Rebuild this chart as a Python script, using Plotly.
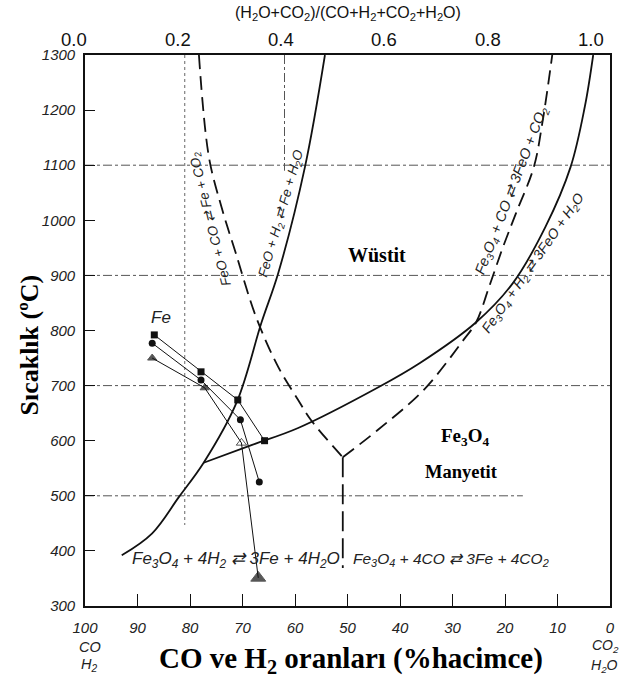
import plotly.graph_objects as go

# ---------------- data ----------------
# x values are CO / H2 volume percent (100 at left, 0 at right), y is temperature (°C)
h2_fe_x = [93.0, 87.2, 82.1, 77.4, 71.1, 66.4, 63.2, 58.1, 54.3]
h2_fe_t = [392, 432, 498, 560, 670, 814, 904, 1097, 1300]

h2_feo_x = [77.4, 68.3, 59.4, 44.3, 36.2, 25.5, 18.5, 12.3, 7.5, 4.8, 3.2]
h2_feo_t = [560, 592, 623, 696, 741, 815, 886, 988, 1097, 1206, 1300]

co_fe_x = [78.3, 76.4, 74.0, 71.3, 67.4, 63.2, 59.4, 57.0, 50.9]
co_fe_t = [1300, 1115, 1024, 941, 824, 734, 674, 638, 570]

co_feo_x = [50.9, 44.3, 35.5, 27.9, 25.5, 23.0, 20.4, 17.9, 14.5, 12.8, 11.0]
co_feo_t = [570, 619, 692, 783, 815, 880, 951, 1013, 1097, 1182, 1300]

co_fe3o4_x = [50.9, 50.9]
co_fe3o4_t = [570, 369]

sq_x = [86.8, 77.9, 70.9, 65.8]
sq_t = [792, 725, 674, 600]
ci_x = [87.2, 77.9, 70.4, 66.8]
ci_t = [777, 710, 638, 525]
tr_x = [87.2, 77.2, 70.2, 67.0]
tr_t = [750, 696, 596, 351]

grid_t = [1100, 900, 700, 500]
grid_end = [0, 0, 0, 16.6]

ref_v1_x = [81.0, 81.0]
ref_v1_t = [1300, 447]
ref_v2_x = [62.0, 62.0]
ref_v2_t = [1300, 1090]

x_ticks = [100, 90, 80, 70, 60, 50, 40, 30, 20, 10, 0]
y_ticks = [300, 400, 500, 600, 700, 800, 900, 1000, 1100, 1200, 1300]
top_ticks = [0.0, 0.2, 0.4, 0.6, 0.8, 1.0]

# ---------------- figure ----------------
fig = go.Figure()
black = "#111111"

for gt, ge in zip(grid_t, grid_end):
    fig.add_trace(go.Scatter(x=[100, ge], y=[gt, gt], mode="lines",
                             line=dict(color="#555555", width=1, dash="dashdot"),
                             hoverinfo="skip", showlegend=False))
fig.add_trace(go.Scatter(x=ref_v1_x, y=ref_v1_t, mode="lines",
                         line=dict(color="#666666", width=1, dash="dot"), showlegend=False))
fig.add_trace(go.Scatter(x=ref_v2_x, y=ref_v2_t, mode="lines",
                         line=dict(color="#555555", width=1, dash="dashdot"), showlegend=False))

fig.add_trace(go.Scatter(x=h2_fe_x, y=h2_fe_t, mode="lines", line_shape="spline",
                         line=dict(color=black, width=1.8), showlegend=False))
fig.add_trace(go.Scatter(x=h2_feo_x, y=h2_feo_t, mode="lines", line_shape="spline",
                         line=dict(color=black, width=1.8), showlegend=False))
fig.add_trace(go.Scatter(x=co_fe_x, y=co_fe_t, mode="lines", line_shape="spline",
                         line=dict(color=black, width=1.8, dash="14px,7px"), showlegend=False))
fig.add_trace(go.Scatter(x=co_feo_x, y=co_feo_t, mode="lines", line_shape="spline",
                         line=dict(color=black, width=1.8, dash="14px,7px"), showlegend=False))
fig.add_trace(go.Scatter(x=co_fe3o4_x, y=co_fe3o4_t, mode="lines",
                         line=dict(color=black, width=1.8, dash="20px,7px"), showlegend=False))

fig.add_trace(go.Scatter(x=sq_x, y=sq_t, mode="lines+markers",
                         line=dict(color=black, width=1),
                         marker=dict(symbol="square", size=7, color=black), showlegend=False))
fig.add_trace(go.Scatter(x=ci_x, y=ci_t, mode="lines+markers",
                         line=dict(color=black, width=1),
                         marker=dict(symbol="circle", size=7, color=black), showlegend=False))
fig.add_trace(go.Scatter(x=tr_x, y=tr_t, mode="lines+markers",
                         line=dict(color=black, width=1),
                         marker=dict(symbol=["triangle-up", "triangle-up", "triangle-up-open", "triangle-up"],
                                     size=[8, 8, 9, 13], color=black, line=dict(color=black, width=1)),
                         showlegend=False))

tick_font = dict(family="Liberation Sans", size=15, color="#222222", style="italic")
fig.update_xaxes(range=[100, 0], tickvals=x_ticks, ticktext=[str(v) for v in x_ticks],
                 ticks="inside", ticklen=12, tickwidth=1.3, tickcolor=black,
                 showline=True, linecolor=black, linewidth=1.6, mirror=True,
                 showgrid=False, zeroline=False, tickfont=tick_font, ticklabelstandoff=7)
fig.update_yaxes(range=[300, 1300], tickvals=y_ticks, ticktext=[str(v) for v in y_ticks],
                 ticks="inside", ticklen=10, tickwidth=1.3, tickcolor=black,
                 showline=True, linecolor=black, linewidth=1.6, mirror=True,
                 showgrid=False, zeroline=False, tickfont=tick_font, ticklabelstandoff=5)

L, R, T, B, W, H = 85, 8, 55, 71, 623, 677
pw, ph = W - L - R, H - T - B

def px(xp):
    return (xp - L) / pw

def py(yp):
    return (H - B - yp) / ph

ann = []
serif = "Liberation Serif"
it = dict(family="Liberation Sans", color="#222222", style="italic")

def add(text, x, y, size, font=None, angle=0, xref="x", yref="y", **kw):
    f = dict(font or it)
    f["size"] = size
    ann.append(dict(text=text, x=x, y=y, xref=xref, yref=yref, showarrow=False,
                    font=f, textangle=angle, xanchor="center", yanchor="middle", **kw))

bold = dict(family=serif, color="#000000")
add("<b>Wüstit</b>", 44.3, 937, 20, bold)
add("<b>Fe<sub>3</sub>O<sub>4</sub></b>", 27.7, 607, 19, bold)
add("<b>Manyetit</b>", 28.3, 543, 18.5, bold)
add("Fe", 85.5, 823, 17)
add("Fe<sub>3</sub>O<sub>4</sub> + 4H<sub>2</sub> ⇄ 3Fe + 4H<sub>2</sub>O", 71.3, 384, 17)
add("Fe<sub>3</sub>O<sub>4</sub> + 4CO ⇄ 3Fe + 4CO<sub>2</sub>", 30.2, 384, 15.5)
add("FeO + CO ⇄ Fe + CO<sub>2</sub>", 76.0, 1003, 13.5, angle=-104)
add("FeO + H<sub>2</sub> ⇄ Fe + H<sub>2</sub>O", 62.6, 1013, 13.5, angle=-74)
add("Fe<sub>3</sub>O<sub>4</sub> + CO ⇄ 3FeO + CO<sub>2</sub>", 18.7, 1053, 14.5, angle=-69)
add("Fe<sub>3</sub>O<sub>4</sub> + H<sub>2</sub> ⇄ 3FeO + H<sub>2</sub>O", 14.5, 922, 14, angle=-55)

# bottom side labels
add("CO", px(90), py(647), 14.5, xref="paper", yref="paper")
add("H<sub>2</sub>", px(89), py(665), 14.5, xref="paper", yref="paper")
add("CO<sub>2</sub>", px(610), py(646), 14, xref="paper", yref="paper")
add("H<sub>2</sub>O", px(609), py(666), 14, xref="paper", yref="paper")

# axis titles
add("<b>CO ve H<sub>2</sub> oranları (%hacimce)</b>", px(354), py(660), 29, bold,
    xref="paper", yref="paper")
add("<b>Sıcaklık (ºC)</b>", px(28), py(345), 26, bold, angle=-90, xref="paper", yref="paper")

# top scale
sans = dict(family="Liberation Sans", color="#111111")
add("(H<sub>2</sub>O+CO<sub>2</sub>)/(CO+H<sub>2</sub>+CO<sub>2</sub>+H<sub>2</sub>O)", px(351), py(14), 16,
    sans, xref="paper", yref="paper")
for tv in top_ticks:
    xp = 74 + 522 * tv
    add(f"{tv:.1f}", px(xp), py(39), 18.5, sans, xref="paper", yref="paper")

fig.update_layout(width=W, height=H, margin=dict(l=L, r=R, t=T, b=B),
                  plot_bgcolor="white", paper_bgcolor="white", annotations=ann)

fig.write_html("out.html", config={"displayModeBar": False},
               post_script="document.body.style.margin='0';")
